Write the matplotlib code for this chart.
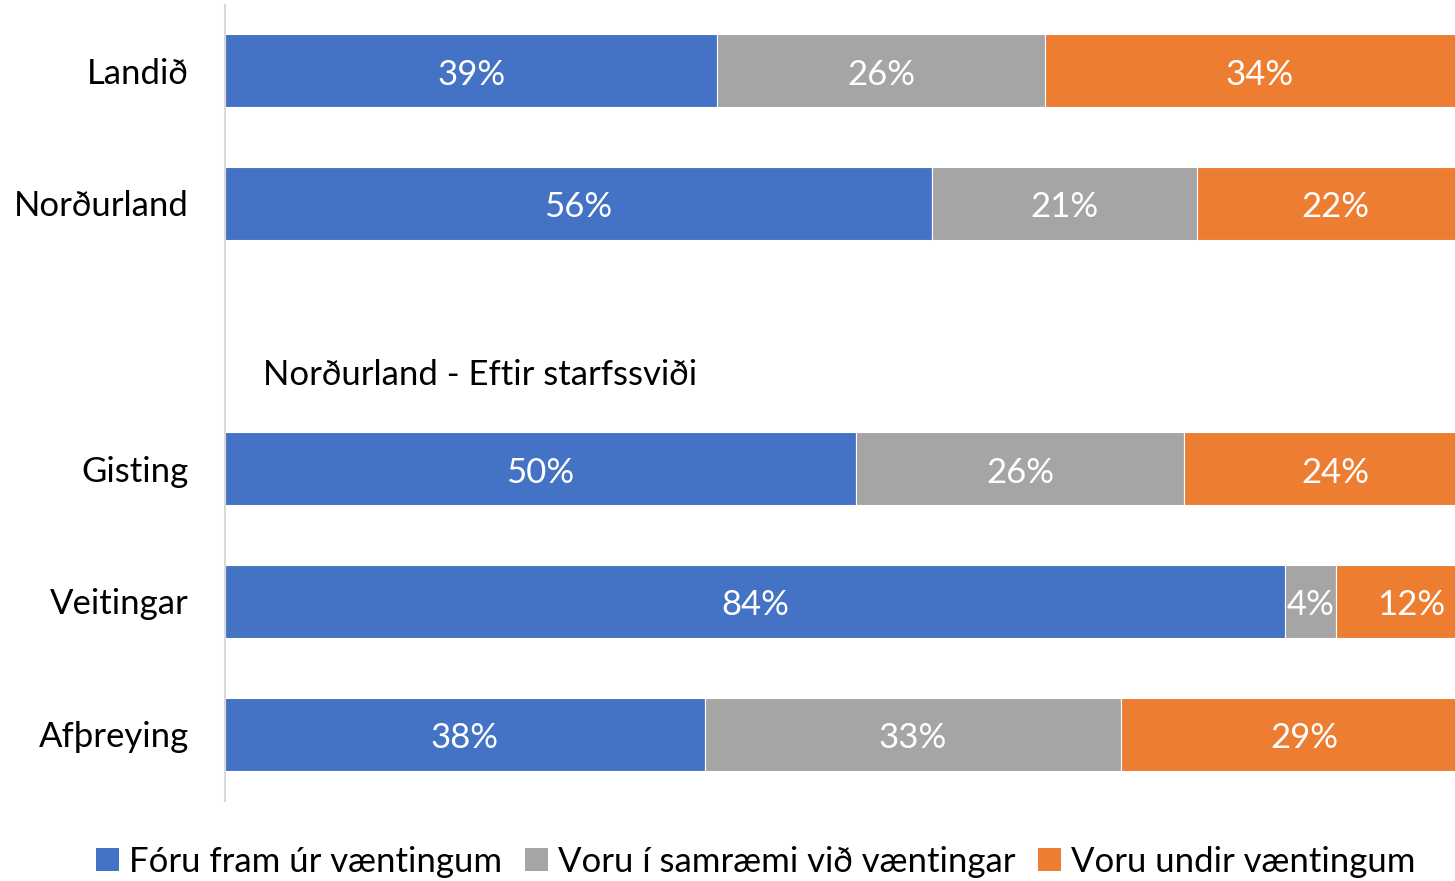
import numpy as np
import matplotlib.pyplot as plt
from matplotlib.patches import Patch

plt.rcParams['font.family'] = ['Lato', 'DejaVu Sans']

# data (percent), row 2 is the sub-heading spacer
categories = ['Landið', 'Norðurland', '', 'Gisting', 'Veitingar', 'Afþreying']
above = [39, 56, 0, 50, 84, 38]
matched = [26, 21, 0, 26, 4, 33]
below = [34, 22, 0, 24, 12, 29]
series_names = ['Fóru fram úr væntingum', 'Voru í samræmi við væntingar', 'Voru undir væntingum']
colors = ['#4472C4', '#A5A5A5', '#ED7D31']
subheading = 'Norðurland - Eftir starfssviði'

FS = 25

fig = plt.figure(figsize=(14.55, 8.81), dpi=100)
ax = fig.add_axes([225 / 1455, 80.5 / 881, 1230 / 1455, 796 / 881])

y = np.arange(len(categories))
left = np.zeros(len(categories))
for vals, color in zip([above, matched, below], colors):
    vals = np.array(vals, dtype=float)
    ax.barh(y, vals, left=left, height=0.55, color=color,
            edgecolor='white', linewidth=0.8)
    for yi, (l, v) in enumerate(zip(left, vals)):
        if v > 0:
            ax.text(l + v / 2, yi + 0.03, f'{int(v)}%', ha='center', va='center',
                    color='white', fontsize=FS)
    left += vals

ax.text(3.0, 2.29, subheading, ha='left', va='center', fontsize=FS, color='black')

ax.set_xlim(0, 97.46)
ax.set_ylim(len(categories) - 0.5, -0.5)
ax.set_yticks(y)
ax.set_yticklabels(categories, fontsize=FS)
ax.tick_params(axis='y', length=0, pad=26)
ax.set_xticks([])
for s in ['top', 'right', 'bottom']:
    ax.spines[s].set_visible(False)
ax.spines['left'].set_color('#D9D9D9')
ax.spines['left'].set_linewidth(1.5)

handles = [Patch(facecolor=c, edgecolor='none') for c in colors]
fig.legend(handles, series_names, loc='center', bbox_to_anchor=(756 / 1455, 1 - 862 / 881),
           ncol=3, frameon=False, fontsize=FS, handlelength=0.65, handleheight=0.65,
           handletextpad=0.3, columnspacing=0.65)

fig.savefig('out.png', dpi=100)
